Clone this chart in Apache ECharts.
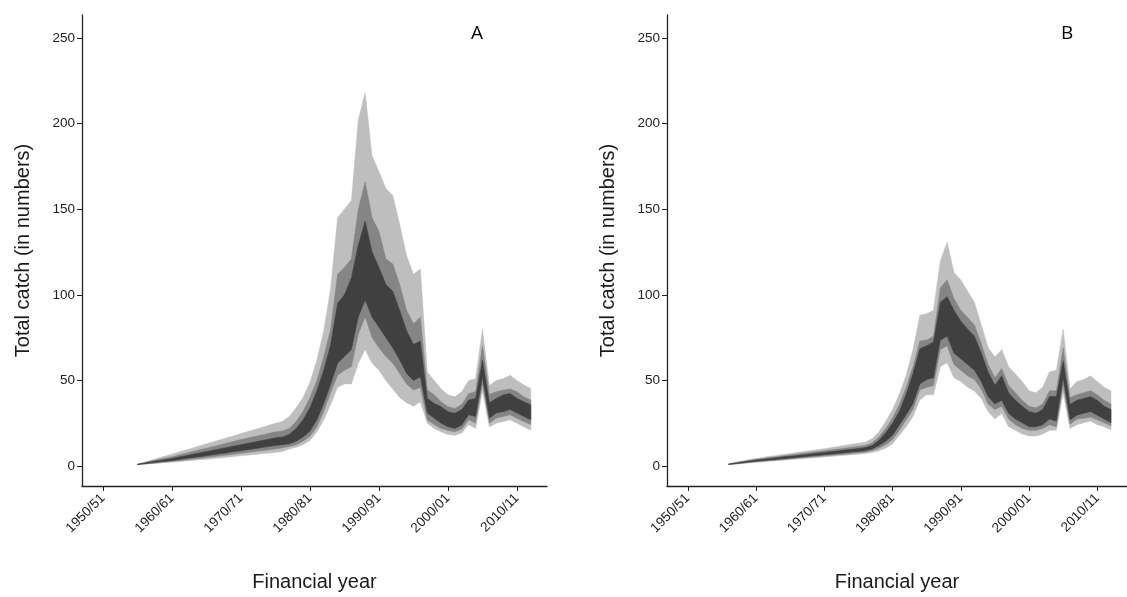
<!DOCTYPE html>
<html>
<head>
<meta charset="utf-8">
<script src="https://cdn.jsdelivr.net/npm/echarts@6/dist/echarts.min.js"></script>
<style>
html,body{margin:0;padding:0;background:#fff;}
#chart{width:1127px;height:597px;}
</style>
</head>
<body>
<div id="chart"></div>
<script>
// ---------- Data ----------
const yearsA = [1955,1956,1957,1958,1959,1960,1961,1962,1963,1964,1965,1966,1967,1968,1969,1970,1971,1972,1973,1974,1975,1976,1977,1978,1979,1980,1981,1982,1983,1984,1985,1986,1987,1988,1989,1990,1991,1992,1993,1994,1995,1996,1997,1998,1999,2000,2001,2002,2003,2004,2005,2006,2007,2008,2009,2010,2011,2012];
const aOuterLo = [0.8,1.1,1.4,1.7,2.0,2.3,2.6,3.0,3.3,3.7,4.0,4.4,4.8,5.2,5.6,6.0,6.4,6.8,7.2,7.6,8.0,8.5,10,11,12.5,15,20,27,36,46,48,48,60,68,60,56,50,45,40,37,35,37.6,25,22,20,18.5,18,19.3,24.3,22,44,23,25,26,27,25,23,21];
const aMidLo   = [0.85,1.25,1.6,2.0,2.4,2.8,3.2,3.6,4.1,4.5,5.0,5.5,6.0,6.5,7.0,7.5,8.0,8.5,9.0,9.5,10.0,10.7,11.5,12.5,14.5,17.5,23,32,43,53,56,58,77,87,75,69,64,60,54,48,44.5,46,27,24.3,22,20.8,20,21.6,27,25,48,25,28,29,30,28,26,24.3];
const aDarkLo  = [0.9,1.4,1.9,2.4,2.8,3.2,3.8,4.4,4.9,5.5,6.0,6.6,7.2,7.8,8.4,9.0,9.6,10.2,10.8,11.4,12.0,12.5,13,14.5,17,20.5,27,36.5,48,60,64,68,87,97,87,81,75,69,62,54,50,52,31,28,25,23,22,24,30,29,52,28,31,31.8,33,31,29,27];
const aDarkHi  = [1.1,1.8,2.5,3.2,3.9,4.5,5.3,6.1,6.9,7.7,8.5,9.3,10.1,10.9,11.7,12.5,13.3,14.1,14.9,15.7,16.5,17.0,18.5,22,27,34,44,56,71,95,100,110,129,143,125,116,106,102,91,79,71,73,39.5,36.6,34.7,31.8,30.8,33,38.6,39.5,62,37,39.5,41.6,42.4,39.5,37.6,35.8];
const aMidHi   = [1.15,2.0,3.0,3.9,4.7,5.5,6.5,7.5,8.5,9.5,10.5,11.5,12.5,13.5,14.5,15.5,16.4,17.3,18.2,19.1,20.0,20.5,22,26,32,40,50,64,80,112,116,121,150,166,145,137,121,118,106,91,83,87,44.5,41.6,37.6,34.7,33.7,36,42.4,43.4,70.5,42,43.4,44.4,45,43.4,40.5,38.6];
const aOuterHi = [1.2,2.3,3.5,4.7,5.9,7.0,8.2,9.4,10.6,11.8,13.0,14.2,15.4,16.6,17.8,19.0,20.2,21.4,22.6,23.8,25.0,26.0,29,34,40,49,62,79,104,145,150,155,202,218,181,172,162,158,141,123,112,115,55,50,45,41.6,40.5,43.4,50,51,80,47,50,51,53,50,47.3,45.3];

const yearsB = [1956,1957,1958,1959,1960,1961,1962,1963,1964,1965,1966,1967,1968,1969,1970,1971,1972,1973,1974,1975,1976,1977,1978,1979,1980,1981,1982,1983,1984,1985,1986,1987,1988,1989,1990,1991,1992,1993,1994,1995,1996,1997,1998,1999,2000,2001,2002,2003,2004,2005,2006,2007,2008,2009,2010,2011,2012];
const bOuterLo = [0.9,1.2,1.5,1.9,2.2,2.5,2.8,3.2,3.5,3.8,4.1,4.4,4.7,5.0,5.3,5.6,6.0,6.3,6.7,7.0,7.4,8.0,9.0,10.5,13.0,18.0,23.0,29.0,38.6,41.7,41.7,58.0,60.4,51.6,49.4,46.0,43.9,39.5,31.9,27.5,30.8,23.0,20.9,18.7,17.6,17.6,18.7,20.9,20.9,42.8,22.0,24.2,25.3,26.4,24.2,23.0,21.3];
const bMidLo   = [0.95,1.3,1.7,2.1,2.5,2.8,3.2,3.5,3.9,4.2,4.6,4.9,5.3,5.6,6.0,6.3,6.7,7.0,7.4,7.8,8.2,9.0,10.5,12.5,15.5,21.0,27.0,33.0,44.5,46.0,47.0,68.0,70.3,59.3,56.0,52.7,50.5,45.0,36.2,33.0,35.0,27.5,24.2,22.0,20.9,20.9,22.0,24.2,23.0,47.2,24.5,27.5,27.9,28.6,27.0,25.3,23.5];
const bDarkLo  = [1.0,1.4,1.9,2.4,2.8,3.2,3.6,3.9,4.3,4.7,5.1,5.5,5.9,6.2,6.6,7.0,7.4,7.8,8.2,8.6,9.0,10.0,12.0,14.5,18.0,24.0,30.0,36.6,48.0,50.5,51.6,73.6,75.8,66.0,62.6,59.3,56.0,49.4,40.6,36.2,38.4,30.8,27.5,25.3,23.0,23.0,24.2,27.5,26.4,51.6,27.0,29.7,30.8,31.9,29.7,27.5,25.3];
const bDarkHi  = [1.2,1.8,2.4,3.0,3.6,4.0,4.5,4.9,5.4,5.8,6.2,6.7,7.1,7.6,8.0,8.5,8.9,9.4,9.8,10.3,10.8,12.0,15.0,19.5,25.0,32.0,42.0,54.0,68.5,70.3,72.5,95.6,98.9,91.0,84.6,80.0,75.8,66.0,55.0,47.2,52.7,42.8,38.4,35.0,31.9,30.8,33.0,40.6,40.6,61.5,36.0,38.4,39.5,40.6,38.4,35.0,33.0];
const bMidHi   = [1.3,2.0,2.7,3.3,4.0,4.5,5.0,5.5,6.0,6.5,7.0,7.5,8.0,8.5,9.0,9.5,10.0,10.5,11.0,11.5,12.0,13.5,17.0,22.0,28.0,36.0,46.0,58.0,73.0,73.6,75.8,104.0,108.7,97.8,91.0,86.8,82.4,71.4,59.3,51.6,57.0,47.2,42.8,38.4,35.0,34.0,36.2,44.0,44.0,69.0,40.0,41.7,42.8,44.0,41.7,38.4,36.2];
const bOuterHi = [1.4,2.2,3.0,3.8,4.5,5.1,5.7,6.2,6.8,7.3,7.9,8.5,9.1,9.6,10.2,10.8,11.4,12.1,12.8,13.4,14.0,16.0,20.0,26.0,33.0,42.0,53.0,68.0,88.0,89.0,91.0,119.7,130.7,113.0,108.7,102.0,95.6,82.4,69.2,63.7,68.0,58.0,53.8,49.4,44.0,42.8,46.0,55.0,56.0,80.0,45.0,49.4,50.5,52.7,49.4,46.0,44.0];

const yTicks = [0,50,100,150,200,250];
const xTicks = [1950,1960,1970,1980,1990,2000,2010];
const panelLabels = ['A','B'];

// ---------- Styling ----------
const COL_LIGHT = '#bebebe';
const COL_MID = '#858585';
const COL_DARK = '#404040';
const FONT = 'Liberation Sans';

// ribbon drawn as one polygon through the axis scales (api.coord)
function band(gi, years, lo, hi, color) {
  return {
    type:'custom', xAxisIndex:gi, yAxisIndex:gi, silent:true, animation:false,
    data: years.map((y,i)=>[y, lo[i], hi[i]]),
    encode:{x:0, y:[1,2]},
    renderItem:function(params, api){
      if (params.dataIndexInside !== 0) return null;
      const n = params.dataInsideLength;
      const top = [], bot = [];
      for (let k=0;k<n;k++){
        const x = api.value(0,k);
        top.push(api.coord([x, api.value(2,k)]));
        bot.push(api.coord([x, api.value(1,k)]));
      }
      const pts = top.concat(bot.reverse());
      return {type:'polygon', shape:{points:pts}, style:{fill:color, stroke:color, lineWidth:0.5}};
    }
  };
}

function fy(v){ const r=Math.round(v); const n=(r+1)%100; return r + '/' + (n<10?'0'+n:''+n); }

const grids = [
  {left:82, top:15, width:465, height:475},
  {left:667, top:15, width:465, height:475}
];

const xAxes = grids.map((g,i)=>({
  type:'value', gridIndex:i, min:1946.96, max:2014.35,
  name:'Financial year', nameLocation:'middle', nameGap:86,
  nameTextStyle:{fontSize:20, color:'#1a1a1a', fontFamily:FONT},
  axisLine:{show:true, onZero:false, lineStyle:{color:'#222', width:1.3}},
  axisTick:{show:true, length:5, customValues:xTicks, lineStyle:{color:'#222', width:1}},
  axisLabel:{customValues:xTicks, rotate:45, fontSize:13.5, color:'#222', fontFamily:FONT, margin:10, formatter:fy},
  splitLine:{show:false}
}));

const yAxes = grids.map((g,i)=>({
  type:'value', gridIndex:i, min:-11.6, max:263.3,
  name:'Total catch (in numbers)', nameLocation:'middle', nameGap:49, nameRotate:90,
  nameTextStyle:{fontSize:20, color:'#1a1a1a', fontFamily:FONT},
  axisLine:{show:true, onZero:false, lineStyle:{color:'#222', width:1.3}},
  axisTick:{show:true, length:5, customValues:yTicks, lineStyle:{color:'#222', width:1}},
  axisLabel:{customValues:yTicks, fontSize:13.5, color:'#222', fontFamily:FONT, margin:7},
  splitLine:{show:false}
}));

const series = [
  band(0, yearsA, aOuterLo, aOuterHi, COL_LIGHT),
  band(0, yearsA, aMidLo, aMidHi, COL_MID),
  band(0, yearsA, aDarkLo, aDarkHi, COL_DARK),
  band(1, yearsB, bOuterLo, bOuterHi, COL_LIGHT),
  band(1, yearsB, bMidLo, bMidHi, COL_MID),
  band(1, yearsB, bDarkLo, bDarkHi, COL_DARK)
];

const chart = echarts.init(document.getElementById('chart'), null, {renderer:'canvas'});
chart.setOption({
  animation:false,
  backgroundColor:'#fff',
  grid:grids,
  xAxis:xAxes,
  yAxis:yAxes,
  series:series,
  graphic:[
    {type:'text', left:471, top:24, style:{text:panelLabels[0], fontSize:19, fill:'#000', fontFamily:'Open Sans'}},
    {type:'text', left:1061, top:24, style:{text:panelLabels[1], fontSize:19, fill:'#000', fontFamily:'Open Sans'}}
  ]
});
</script>
</body>
</html>
